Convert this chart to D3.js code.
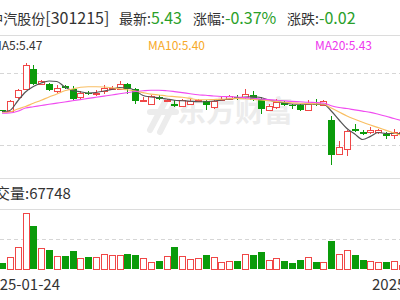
<!DOCTYPE html>
<html>
<head>
<meta charset="utf-8">
<script src="https://cdn.jsdelivr.net/npm/d3@7"></script>
<style>
  body { margin: 0; background: #fff; overflow: hidden; }
  svg { display: block; font-family: "Microsoft YaHei", "Noto Sans CJK SC", sans-serif; }
</style>
</head>
<body>
<script>
// daily candles, 2025-02-05 .. 2025-04-18
var opens = [5.63, 5.62, 5.73, 5.80, 5.96, 5.84, 5.84, 5.78, 5.82, 5.80,
  5.73, 5.77, 5.76, 5.78, 5.80, 5.80, 5.84, 5.80, 5.70, 5.68,
  5.73, 5.70, 5.68, 5.66, 5.68, 5.70, 5.70, 5.65, 5.71, 5.72,
  5.73, 5.73, 5.75, 5.72, 5.63, 5.65, 5.69, 5.67, 5.67, 5.63,
  5.68, 5.67, 5.55, 5.28, 5.32, 5.48, 5.45, 5.45, 5.45, 5.44,
  5.43, 5.44];
var highs = [5.63, 5.71, 5.80, 6.01, 5.99, 5.87, 5.85, 5.83, 5.83, 5.82,
  5.78, 5.78, 5.79, 5.83, 5.82, 5.86, 5.85, 5.81, 5.73, 5.75,
  5.75, 5.72, 5.71, 5.72, 5.72, 5.72, 5.71, 5.72, 5.73, 5.75,
  5.75, 5.80, 5.78, 5.73, 5.68, 5.72, 5.70, 5.68, 5.68, 5.71,
  5.72, 5.71, 5.58, 5.38, 5.47, 5.52, 5.47, 5.49, 5.48, 5.45,
  5.48, 5.46];
var lows = [5.61, 5.61, 5.72, 5.79, 5.83, 5.83, 5.78, 5.77, 5.80, 5.71,
  5.72, 5.75, 5.74, 5.76, 5.79, 5.79, 5.76, 5.68, 5.69, 5.67,
  5.71, 5.69, 5.65, 5.65, 5.67, 5.69, 5.63, 5.64, 5.70, 5.71,
  5.71, 5.72, 5.70, 5.60, 5.62, 5.64, 5.66, 5.64, 5.62, 5.62,
  5.66, 5.66, 5.19, 5.27, 5.26, 5.45, 5.43, 5.44, 5.44, 5.40,
  5.40, 5.43];
var closes = [5.62, 5.70, 5.79, 5.99, 5.84, 5.86, 5.79, 5.81, 5.81, 5.72,
  5.77, 5.76, 5.77, 5.81, 5.81, 5.84, 5.80, 5.70, 5.71, 5.74,
  5.72, 5.71, 5.66, 5.71, 5.70, 5.71, 5.67, 5.70, 5.72, 5.74,
  5.72, 5.76, 5.71, 5.64, 5.66, 5.69, 5.67, 5.66, 5.63, 5.68,
  5.67, 5.70, 5.27, 5.33, 5.46, 5.46, 5.44, 5.47, 5.47, 5.42,
  5.45, 5.45];
var volumes = [97000, 208000, 368000, 944000, 734000, 351000, 322000, 220000, 220000, 300000,
  181000, 198000, 208000, 249000, 237000, 237000, 254000, 237000, 181000, 124000,
  141000, 225000, 378000, 225000, 164000, 181000, 237000, 198000, 124000, 141000,
  141000, 254000, 237000, 288000, 153000, 181000, 141000, 97000, 153000, 198000,
  114000, 114000, 480000, 254000, 322000, 237000, 153000, 136000, 114000, 124000,
  141000, 67748];
var ma5 = [5.616, 5.626, 5.702, 5.774, 5.818, 5.846, 5.862, 5.858, 5.814, 5.786,
  5.776, 5.766, 5.770, 5.782, 5.794, 5.810, 5.806, 5.786, 5.746, 5.734,
  5.728, 5.718, 5.708, 5.704, 5.700, 5.696, 5.696, 5.702, 5.710, 5.718,
  5.724, 5.734, 5.736, 5.730, 5.710, 5.698, 5.686, 5.678, 5.676, 5.676,
  5.676, 5.676, 5.622, 5.550, 5.482, 5.438, 5.394, 5.419, 5.450, 5.442,
  5.442, 5.442];
var ma10 = [5.608, 5.614, 5.638, 5.658, 5.684, 5.708, 5.734, 5.758, 5.784, 5.798,
  5.812, 5.816, 5.816, 5.814, 5.808, 5.800, 5.792, 5.782, 5.769, 5.757,
  5.750, 5.742, 5.737, 5.732, 5.723, 5.712, 5.712, 5.714, 5.716, 5.720,
  5.723, 5.720, 5.715, 5.710, 5.705, 5.699, 5.692, 5.687, 5.684, 5.681,
  5.679, 5.678, 5.646, 5.614, 5.582, 5.556, 5.532, 5.510, 5.489, 5.467,
  5.446, 5.426];
var ma20 = [5.604, 5.606, 5.620, 5.646, 5.656, 5.666, 5.676, 5.685, 5.694, 5.704,
  5.713, 5.723, 5.732, 5.741, 5.750, 5.760, 5.769, 5.778, 5.784, 5.788,
  5.788, 5.784, 5.777, 5.769, 5.760, 5.752, 5.748, 5.742, 5.738, 5.737,
  5.734, 5.729, 5.724, 5.718, 5.713, 5.708, 5.704, 5.699, 5.696, 5.692,
  5.690, 5.686, 5.664, 5.650, 5.642, 5.631, 5.621, 5.611, 5.596, 5.580,
  5.562, 5.546];

var headLabels = ['中汽股份', '最新:', '涨幅:', '涨跌:'];
var headValues = ['[301215]', '5.43', '-0.37%', '-0.02'];
var headValueColors = ['#333', '#2aa02a', '#2aa02a', '#2aa02a'];
var maLabels = ['MA5:5.47', 'MA10:5.40', 'MA20:5.43'];
var maColors = ['#333333', '#f7a928', '#ee36ee'];
var lineColors = ['#555555', '#f9bf63', '#f04cf0'];
var volLabel = '成交量:67748';
var dateLabels = ['2025-01-24', '2025-04-29'];
var priceGrid = [5.93, 5.35];
var volGrid = [508000];

var width = 400, height = 300;
var svg = d3.select(document.body).append('svg').attr('width', width).attr('height', height);

var red = '#f04646', green = '#0a9b0a';

var x = d3.scalePoint().domain(d3.range(closes.length)).range([2, 401.8]);
var y = d3.scaleLinear().domain([5.35, 5.95]).range([145, 70]);
var yv = d3.scaleLinear().domain([0, 1016000]).range([269, 209]);

// header: label (CJK) followed by its value
var hx = [-10.7, 119, 193, 287];
headLabels.forEach(function (t, i) {
  var tx = svg.append('text').attr('x', hx[i]).attr('y', 24).attr('fill', '#333');
  tx.append('tspan').attr('font-size', 14).text(t);
  tx.append('tspan').attr('font-size', 16).attr('fill', headValueColors[i]).text(headValues[i]);
});
svg.append('line').attr('x1', 0).attr('x2', width).attr('y1', 35.5).attr('y2', 35.5).attr('stroke', '#dcdcdc');

// MA legend
var mx = [-8, 148, 315];
maLabels.forEach(function (t, i) {
  svg.append('text').attr('x', mx[i]).attr('y', 50).attr('font-size', 12).attr('fill', maColors[i]).text(t);
});

// watermark
var wm = svg.append('g').attr('fill', '#ececec').attr('stroke', '#ececec');
wm.append('path').attr('d', 'M166,100 L150,130 M174,104 L160,132 M150,112 L176,112')
  .attr('stroke-width', 6).attr('fill', 'none').attr('stroke-linecap', 'round');
wm.append('text').attr('x', 177).attr('y', 122).attr('font-size', 29).attr('font-weight', 'bold')
  .attr('stroke', 'none').text('东方财富');

// grid
svg.selectAll('.pgrid').data(priceGrid).enter().append('line')
  .attr('x1', 0).attr('x2', width)
  .attr('y1', function (d) { return Math.round(y(d)) + 0.5; })
  .attr('y2', function (d) { return Math.round(y(d)) + 0.5; })
  .attr('stroke', '#d6d6d6').attr('stroke-dasharray', '4,3');
svg.selectAll('.vgrid').data(volGrid).enter().append('line')
  .attr('x1', 0).attr('x2', width)
  .attr('y1', function (d) { return Math.round(yv(d)) + 0.5; })
  .attr('y2', function (d) { return Math.round(yv(d)) + 0.5; })
  .attr('stroke', '#d6d6d6').attr('stroke-dasharray', '4,3');
[178.5, 209.5].forEach(function (yy) {
  svg.append('line').attr('x1', 0).attr('x2', width).attr('y1', yy).attr('y2', yy).attr('stroke', '#dcdcdc');
});

// candles
var idx = d3.range(closes.length);
var candles = svg.append('g');
idx.forEach(function (i) {
  var up = closes[i] >= opens[i];
  var col = up ? red : green;
  var left = Math.round(x(i) - 3);
  var cx = left + 3.5;
  var top = Math.round(y(Math.max(opens[i], closes[i])));
  var bot = Math.round(y(Math.min(opens[i], closes[i])));
  var hy = Math.round(y(highs[i])), ly = Math.round(y(lows[i]));
  if (up) {
    candles.append('line').attr('x1', cx).attr('x2', cx).attr('y1', hy).attr('y2', top).attr('stroke', col);
    candles.append('line').attr('x1', cx).attr('x2', cx).attr('y1', bot).attr('y2', ly).attr('stroke', col);
    if (bot - top < 1) {
      candles.append('line').attr('x1', left).attr('x2', left + 7).attr('y1', top + 0.5).attr('y2', top + 0.5).attr('stroke', col);
    } else {
      candles.append('rect').attr('x', left + 0.5).attr('y', top + 0.5).attr('width', 6).attr('height', bot - top)
        .attr('fill', '#fff').attr('stroke', col);
    }
  } else {
    candles.append('line').attr('x1', cx).attr('x2', cx).attr('y1', hy).attr('y2', ly).attr('stroke', col);
    candles.append('rect').attr('x', left).attr('y', top).attr('width', 7).attr('height', Math.max(1, bot - top))
      .attr('fill', col);
  }
});

// moving averages
var line = d3.line().x(function (d, i) { return x(i); }).y(function (d) { return y(d); }).curve(d3.curveMonotoneX);
[ma5, ma10, ma20].forEach(function (s, k) {
  svg.append('path').attr('d', line(s)).attr('fill', 'none').attr('stroke', lineColors[k]).attr('stroke-width', 1.2);
});

// volume
svg.append('text').attr('x', -20).attr('y', 199).attr('font-size', 15).attr('fill', '#333').text(volLabel);
svg.selectAll('.vol').data(idx).enter().append('rect')
  .attr('x', function (i) { var l = Math.round(x(i) - 3); return closes[i] >= opens[i] ? l + 0.5 : l; })
  .attr('y', function (i) { var t = Math.round(yv(volumes[i])); return closes[i] >= opens[i] ? t + 0.5 : t; })
  .attr('width', function (i) { return closes[i] >= opens[i] ? 6 : 7; })
  .attr('height', function (i) { var t = Math.round(yv(volumes[i])); return Math.max(1, 269 - t); })
  .attr('fill', function (i) { return closes[i] >= opens[i] ? '#fff' : green; })
  .attr('stroke', function (i) { return closes[i] >= opens[i] ? red : 'none'; });

// dates
svg.append('text').attr('x', -17).attr('y', 290).attr('font-size', 15).attr('fill', '#333').text(dateLabels[0]);
svg.append('text').attr('x', 372).attr('y', 290).attr('font-size', 15).attr('fill', '#333').text(dateLabels[1]);
</script>
</body>
</html>
